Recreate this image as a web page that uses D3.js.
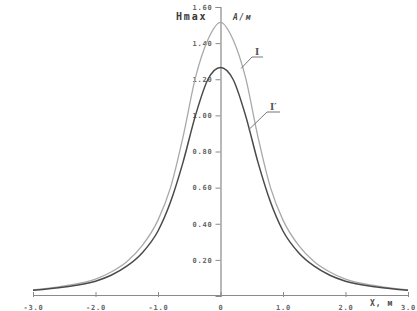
<!DOCTYPE html>
<html>
<head>
<meta charset="utf-8">
<script src="https://cdn.jsdelivr.net/npm/d3@7"></script>
<style>
  body { margin: 0; background: #fff; }
  svg { display: block; }
  .tick text { font-family: "DejaVu Sans Mono", monospace; font-weight: bold; font-size: 7px; fill: #666; letter-spacing: 0.8px; }
</style>
</head>
<body>
<svg id="chart"></svg>
<script>
// values (H in A/m against X in m)
const xs = [-3, -2.5, -2, -1.75, -1.5, -1.25, -1, -0.8, -0.6, -0.4, -0.2, 0,
            0.2, 0.4, 0.6, 0.8, 1, 1.25, 1.5, 1.75, 2, 2.5, 3];
const curveI = [0.034, 0.056, 0.093, 0.133, 0.19, 0.28, 0.42, 0.60, 0.88, 1.21, 1.42, 1.515,
                1.42, 1.21, 0.88, 0.60, 0.42, 0.28, 0.19, 0.133, 0.093, 0.056, 0.034];
const curveI2 = [0.032, 0.05, 0.082, 0.115, 0.165, 0.24, 0.36, 0.52, 0.74, 1.00, 1.20, 1.265,
                 1.20, 1.00, 0.74, 0.52, 0.36, 0.24, 0.165, 0.115, 0.082, 0.05, 0.032];
const xTicks = [-3, -2, -1, 0, 1, 2, 3];
const xTickLabels = ["-3.0", "-2.0", "-1.0", "0", "1.0", "2.0", "3.0"];
const yTicks = [0.2, 0.4, 0.6, 0.8, 1.0, 1.2, 1.4, 1.6];

const width = 417, height = 311;
const svg = d3.select("#chart").attr("width", width).attr("height", height);

const x = d3.scaleLinear().domain([-3, 3]).range([33, 408]);
const y = d3.scaleLinear().domain([0, 1.6]).range([296, 7]);

// x axis
const xAxis = svg.append("g")
    .attr("transform", `translate(0, ${y(0) - 1})`)
    .call(d3.axisBottom(x).tickValues(xTicks).tickSizeOuter(0)
        .tickFormat((d, i) => xTickLabels[i]).tickPadding(4));
xAxis.select(".domain").attr("stroke", "#8a8a8a").attr("stroke-width", 1.2);
xAxis.selectAll(".tick line").attr("y1", -3).attr("y2", 2).attr("stroke", "#8a8a8a");

// y axis at x = 0
const yAxis = svg.append("g")
    .attr("transform", `translate(${x(0)}, 0)`)
    .call(d3.axisLeft(y).tickValues(yTicks).tickSizeOuter(0)
        .tickFormat(d3.format(".2f")).tickSize(5).tickPadding(3));
yAxis.select(".domain").attr("stroke", "#8a8a8a").attr("stroke-width", 1.2);
yAxis.selectAll(".tick line").attr("stroke", "#8a8a8a");

const line = d3.line()
    .x((d, i) => x(xs[i]))
    .y(d => y(d))
    .curve(d3.curveMonotoneX);

svg.append("path").datum(curveI)
    .attr("fill", "none").attr("stroke", "#a9a9a9").attr("stroke-width", 1.3)
    .attr("d", line);
svg.append("path").datum(curveI2)
    .attr("fill", "none").attr("stroke", "#4a4a4a").attr("stroke-width", 1.5)
    .attr("d", line);

// axis titles
svg.append("text").attr("x", 176).attr("y", 20)
    .attr("font-family", "DejaVu Sans Mono, monospace").attr("font-weight", "bold")
    .attr("font-size", 10).attr("letter-spacing", 1.8).attr("fill", "#3a3a3a")
    .text("Hmax");
svg.append("text").attr("x", 233).attr("y", 20)
    .attr("font-family", "DejaVu Sans Mono, monospace").attr("font-weight", "bold")
    .attr("font-style", "italic")
    .attr("font-size", 8).attr("letter-spacing", 1.5).attr("fill", "#4a4a4a")
    .text("А/м");
svg.append("text").attr("x", 370).attr("y", 306)
    .attr("font-family", "DejaVu Sans Mono, monospace").attr("font-weight", "bold")
    .attr("font-size", 8).attr("letter-spacing", 1).attr("fill", "#4a4a4a")
    .text("X, м");

// curve labels with leaders
const labels = [
    { text: "I", xv: 0.33, yv: 1.26, lx: 252, ly: 57, w: 11 },
    { text: "I′", xv: 0.45, yv: 0.92, lx: 267, ly: 112, w: 13 }
];
labels.forEach(l => {
    svg.append("path")
        .attr("d", `M${x(l.xv)},${y(l.yv)} L${l.lx},${l.ly} L${l.lx + l.w},${l.ly}`)
        .attr("fill", "none").attr("stroke", "#777").attr("stroke-width", 1);
    svg.append("text").attr("x", l.lx + 3).attr("y", l.ly - 2)
        .attr("font-family", "DejaVu Serif, serif").attr("font-weight", "bold")
        .attr("font-size", 9).attr("fill", "#555")
        .text(l.text);
});
</script>
</body>
</html>
